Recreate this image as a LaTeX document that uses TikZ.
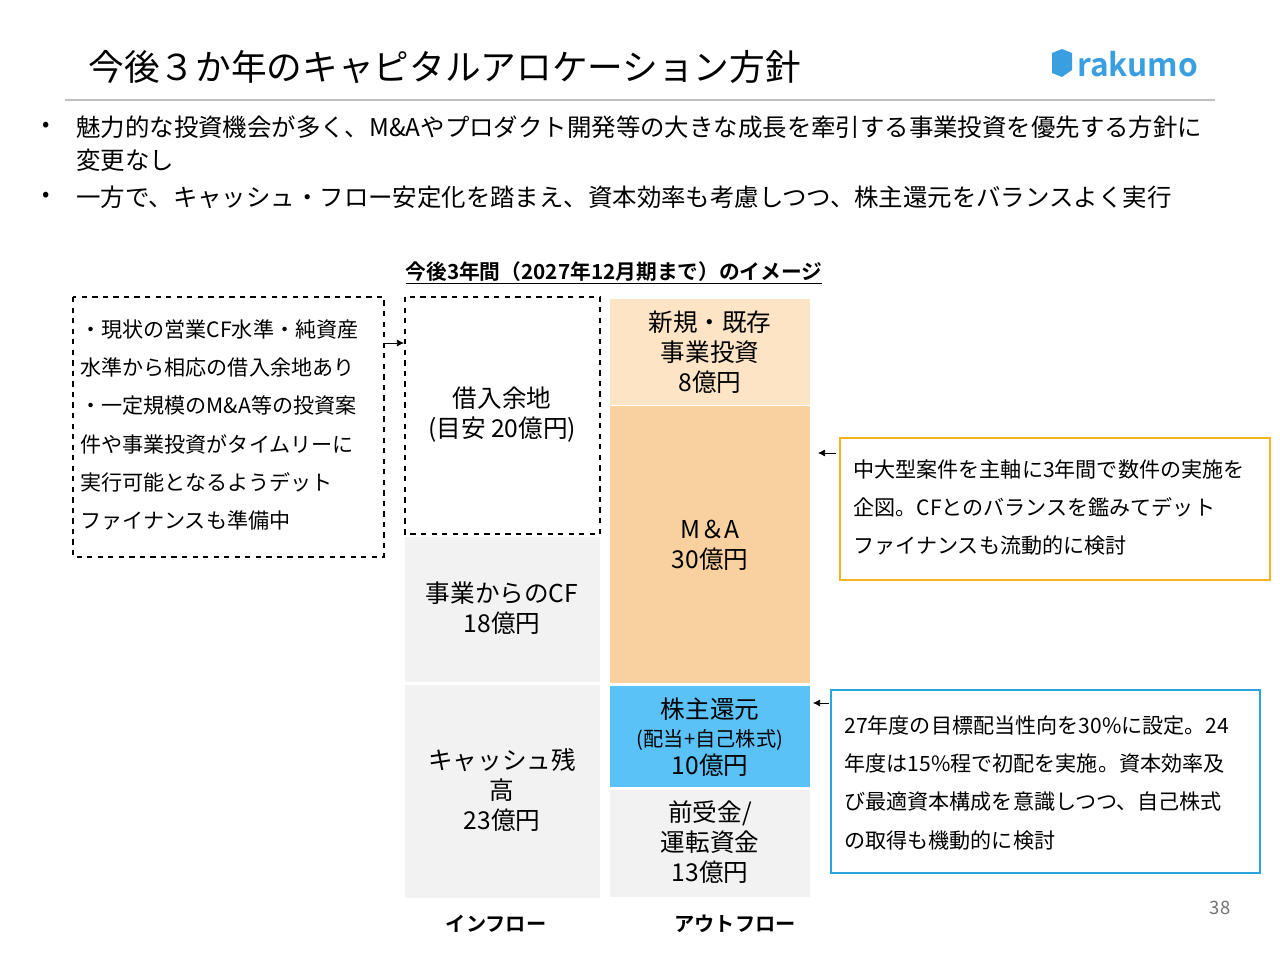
\documentclass[tikz,border=0pt]{standalone}
\usepackage{fontspec}
\setmainfont{Noto Sans CJK JP}
\newfontfamily\boldjp{Noto Sans CJK JP Bold}
\usetikzlibrary{arrows.meta}
\definecolor{lgray}{HTML}{F2F2F2}
\definecolor{lorange}{HTML}{FCE4C4}
\definecolor{morange}{HTML}{F9D19E}
\definecolor{sblue}{HTML}{5BC2F7}
\definecolor{ybord}{HTML}{F2B320}
\definecolor{bbord}{HTML}{2AA5DC}
\definecolor{logob}{HTML}{3A9FE0}
\begin{document}
\begin{tikzpicture}[x=0.02cm,y=-0.02cm,
  txt/.style={font=\fontsize{14}{17}\selectfont,align=center,inner sep=0},
  side/.style={font=\fontsize{12}{21.8}\selectfont,align=left,inner sep=0,anchor=north west},
  arr/.style={-{Latex[length=4pt,width=4pt]},thin}]
\useasboundingbox (0,0) rectangle (1280,960);
\node[anchor=west,inner sep=0,font=\fontsize{20.3}{24}\selectfont] (title) at (88,67) {今後３か年のキャピタルアロケーション方針};
\draw[gray!50,line width=1pt] (65,100) -- (1215,100);
\fill[logob] (1052,53) -- (1062,49) -- (1072,53) -- (1072,70) -- (1062,77) -- (1052,73) -- cycle;
\node[anchor=west,inner sep=0,text=logob,font=\boldjp\fontsize{18}{20}\selectfont] (logo) at (1077,64) {rakumo};
\node[anchor=west,inner sep=0,font=\fontsize{12.3}{15}\selectfont] (b1) at (42,127) {•};
\node[anchor=west,inner sep=0,font=\fontsize{13.9}{15}\selectfont] (t1) at (76,127) {魅力的な投資機会が多く、M\&Aやプロダクト開発等の大きな成長を牽引する事業投資を優先する方針に};
\node[anchor=west,inner sep=0,font=\fontsize{13.9}{15}\selectfont] (t1b) at (76,160) {変更なし};
\node[anchor=west,inner sep=0,font=\fontsize{12.3}{15}\selectfont] (b2) at (42,197) {•};
\node[anchor=west,inner sep=0,font=\fontsize{13.9}{15}\selectfont] (t2) at (76,197) {一方で、キャッシュ・フロー安定化を踏まえ、資本効率も考慮しつつ、株主還元をバランスよく実行};
\node[inner sep=0,font=\boldjp\fontsize{11.8}{12}\selectfont] (hdr) at (614,273) {\underline{今後3年間（2027年12月期まで）のイメージ}};
% left note
\draw[dashed,line width=1pt] (73,297) rectangle (384,557);
\node[side] (lnote) at (80,319) {・現状の営業CF水準・純資産\\水準から相応の借入余地あり\\・一定規模のM\&A等の投資案\\件や事業投資がタイムリーに\\実行可能となるようデット\\ファイナンスも準備中};
\coordinate (la) at (384,343);
% inflow
\draw[dashed,line width=1pt] (405,297) rectangle (600,534);
\node[txt] (debt) at (502,415) {借入余地\\(目安 20億円)};
\fill[lgray] (405,537) rectangle (600,682);
\node[txt] (cf) at (502,608) {事業からのCF\\18億円};
\fill[lgray] (405,685) rectangle (600,898);
\node[txt] (cash) at (502,790) {キャッシュ残\\高\\23億円};
\draw[arr] (la) -- (404,343);
% outflow
\fill[lorange] (610,299) rectangle (810,405);
\node[txt] (inv) at (710,352) {新規・既存\\事業投資\\8億円};
\fill[morange] (610,406) rectangle (810,683);
\node[txt] (ma) at (710,545) {M＆A\\30億円};
\fill[sblue] (610,686) rectangle (810,787);
\node[txt,font=\fontsize{14}{16}\selectfont] (sh) at (710,737) {株主還元\\{\fontsize{11.5}{13}\selectfont(配当+自己株式)}\\10億円};
\fill[lgray] (610,790) rectangle (810,897);
\node[txt] (adv) at (710,842) {前受金/\\運転資金\\13億円};
\node[inner sep=0,font=\boldjp\fontsize{11.5}{12}\selectfont] (inl) at (496,924) {インフロー};
\node[inner sep=0,font=\boldjp\fontsize{11.5}{12}\selectfont] (outl) at (735,924) {アウトフロー};
% right notes
\draw[ybord,line width=1.6pt,fill=white] (840,438) rectangle (1270,580);
\node[side] (ynote) at (853,459) {中大型案件を主軸に3年間で数件の実施を\\企図。CFとのバランスを鑑みてデット\\ファイナンスも流動的に検討};
\draw[arr] (836,453) -- (818,453);
\draw[bbord,line width=1.6pt,fill=white] (831,690) rectangle (1260,873);
\node[side] (bnote) at (844,715) {27年度の目標配当性向を30\%に設定。24\\年度は15\%程で初配を実施。資本効率及\\び最適資本構成を意識しつつ、自己株式\\の取得も機動的に検討};
\draw[arr] (829,703) -- (813,703);
\node[inner sep=0,font=\fontsize{10.5}{12}\selectfont,text=gray!90!black] (pg) at (1220,908) {38};
\end{tikzpicture}
\end{document}
